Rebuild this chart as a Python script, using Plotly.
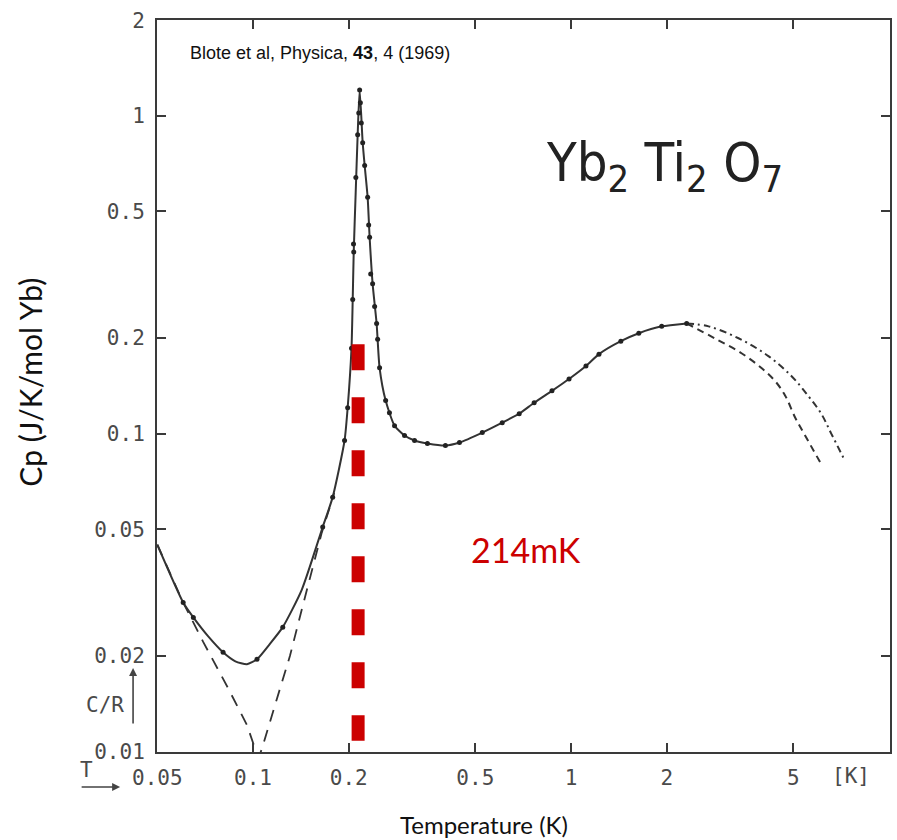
import plotly.graph_objects as go

# Smooth fitted curve through the measurements (T in K, Cp in J/K/mol Yb)
curve_T = [0.050, 0.0603, 0.0649, 0.0723, 0.0805, 0.0880, 0.0957, 0.1029, 0.1130, 0.124,
           0.1424, 0.1656, 0.178, 0.194, 0.1984, 0.204, 0.2058, 0.2073, 0.2103, 0.2133,
           0.2164, 0.2212, 0.2244, 0.2293, 0.2326, 0.2377, 0.2447, 0.250, 0.2612, 0.2786,
           0.2995, 0.322, 0.3535, 0.4027, 0.4457, 0.526, 0.6076, 0.687, 0.7656, 0.871,
           0.9856, 1.114, 1.224, 1.434, 1.633, 1.928, 2.31]
curve_Cp = [0.0447, 0.0294, 0.0264, 0.0230, 0.0205, 0.0192, 0.0188, 0.0195, 0.0218, 0.0246,
            0.0323, 0.0508, 0.0631, 0.0951, 0.1206, 0.1857, 0.264, 0.373, 0.575, 0.872,
            1.205, 0.823, 0.698, 0.554, 0.415, 0.296, 0.222, 0.161, 0.127, 0.1059,
            0.0986, 0.0951, 0.0931, 0.0917, 0.0937, 0.1007, 0.1082, 0.1155, 0.125, 0.1363,
            0.1485, 0.1631, 0.1778, 0.1953, 0.2069, 0.2175, 0.2222]

# Measured points
data_T = [0.0603, 0.0649, 0.0805, 0.1029, 0.124, 0.1656, 0.178, 0.194, 0.1984, 0.204,
          0.2058, 0.2070, 0.2073, 0.2105, 0.2133, 0.2150, 0.2164, 0.2175, 0.2190, 0.2212,
          0.2244, 0.2293, 0.2310, 0.2326, 0.2344, 0.2377, 0.2412, 0.2447, 0.2465, 0.250,
          0.2612, 0.2685, 0.2786, 0.2995, 0.322, 0.3535, 0.4027, 0.4457, 0.526, 0.6076,
          0.687, 0.7656, 0.871, 0.9856, 1.114, 1.224, 1.434, 1.633, 1.928, 2.31]
data_Cp = [0.0294, 0.0264, 0.0205, 0.0195, 0.0246, 0.0508, 0.0631, 0.0951, 0.1206, 0.1857,
           0.264, 0.395, 0.373, 0.640, 0.872, 1.02, 1.205, 1.10, 0.95, 0.823,
           0.698, 0.554, 0.453, 0.415, 0.318, 0.296, 0.251, 0.222, 0.198, 0.161,
           0.127, 0.1163, 0.1059, 0.0986, 0.0951, 0.0931, 0.0917, 0.0937, 0.1007, 0.1082,
           0.1155, 0.125, 0.1363, 0.1485, 0.1631, 0.1778, 0.1953, 0.2069, 0.2175, 0.2222]

# High-temperature extrapolations beyond the broad maximum
dash_T = [2.31, 2.868, 3.436, 3.97, 4.39, 4.72, 5.07, 5.49, 6.075]
dash_Cp = [0.2222, 0.198, 0.179, 0.1608, 0.1460, 0.1314, 0.1122, 0.0972, 0.0812]
dashdot_T = [2.31, 2.707, 3.363, 4.174, 4.93, 5.57, 6.12, 6.58, 7.18]
dashdot_Cp = [0.2222, 0.2175, 0.1995, 0.1753, 0.1518, 0.1314, 0.1155, 0.100, 0.0841]

# Low-temperature contributions (nuclear and magnetic)
nuc_T = [0.050, 0.0603, 0.0697, 0.0835, 0.0957, 0.104]
nuc_Cp = [0.0447, 0.0294, 0.0221, 0.0158, 0.0121, 0.0095]
mag_T = [0.103, 0.1067, 0.1189, 0.1306, 0.1424, 0.1542, 0.1644, 0.180]
mag_Cp = [0.0093, 0.0102, 0.01465, 0.01995, 0.028, 0.0381, 0.0487, 0.065]

# Transition temperature marker
Tc = 0.214
Tc_Cp = [0.191, 0.0108]

x_ticks = [0.05, 0.1, 0.2, 0.5, 1, 2, 5]
x_ticktext = ["0.05", "0.1", "0.2", "0.5", "1", "2", "5"]
y_ticks = [0.01, 0.02, 0.05, 0.1, 0.2, 0.5, 1, 2]
y_ticktext = ["0.01", "0.02", "0.05", "0.1", "0.2", "0.5", "1", "2"]

ink = "#333333"
fig = go.Figure()

fig.add_trace(go.Scatter(x=nuc_T, y=nuc_Cp, mode="lines",
                         line=dict(color=ink, width=1.8, dash="12px,9px")))
fig.add_trace(go.Scatter(x=mag_T, y=mag_Cp, mode="lines",
                         line=dict(color=ink, width=1.8, dash="12px,9px")))
fig.add_trace(go.Scatter(x=dash_T, y=dash_Cp, mode="lines",
                         line=dict(color=ink, width=2, dash="7px,5px", shape="spline")))
fig.add_trace(go.Scatter(x=dashdot_T, y=dashdot_Cp, mode="lines",
                         line=dict(color=ink, width=2, dash="7px,4px,2px,4px", shape="spline")))
fig.add_trace(go.Scatter(x=curve_T, y=curve_Cp, mode="lines",
                         line=dict(color=ink, width=2, shape="spline", smoothing=0.6)))
fig.add_trace(go.Scatter(x=data_T, y=data_Cp, mode="markers",
                         marker=dict(color="#222222", size=5)))
fig.add_trace(go.Scatter(x=[Tc, Tc], y=Tc_Cp, mode="lines",
                         line=dict(color="#cc0000", width=13, dash="26px,27px")))

tick_font = dict(family="DejaVu Sans Mono", size=21, color="#4a4a4a")
axis_common = dict(type="log", showgrid=False, zeroline=False, showline=True,
                   linecolor="#3a3a3a", linewidth=2, mirror="ticks", ticks="inside",
                   ticklen=9, tickwidth=2, tickcolor="#3a3a3a", tickfont=tick_font)

fig.update_xaxes(range=[-1.302, 1.003], tickvals=x_ticks, ticktext=x_ticktext,
                 ticklabelstandoff=6, **axis_common)
fig.update_yaxes(range=[-2.002, 0.3015], tickvals=y_ticks, ticktext=y_ticktext,
                 ticklabelstandoff=6, **axis_common)

annotations = [
    dict(x=-0.1728, y=0.505, text="Cp (J/K/mol Yb)", textangle=-90,
         font=dict(family="Lato", size=30, color="#111111")),
    dict(x=0.4463, y=-0.0997, text="Temperature (K)",
         font=dict(family="Lato", size=24, color="#111111")),
    dict(x=0.0422, y=0.955, xanchor="left", text="Blote et al, Physica, <b>43</b>, 4 (1969)",
         font=dict(family="Liberation Sans", size=18, color="#111111")),
    dict(x=0.692, y=0.80, text="Yb<sub>2</sub> Ti<sub>2</sub> O<sub>7</sub>",
         font=dict(family="DejaVu Sans Condensed, Liberation Sans", size=54, color="#222222")),
    dict(x=0.503, y=0.276, text="214mK",
         font=dict(family="Lato", size=34, color="#cc0000")),
    dict(x=0.947, y=-0.0328, text="[K]", font=tick_font),
    dict(x=-0.0707, y=0.0642, text="C/R", font=tick_font),
    dict(x=-0.0966, y=-0.0246, text="T", font=tick_font),
]
for a in annotations:
    a.setdefault("xanchor", "center")
    a.update(showarrow=False, yanchor="middle", xref="paper", yref="paper")

# Arrows beside the axis symbols C/R and T
arrows = [
    dict(x=-0.03265, y=0.1148, ax=0, ay=57),
    dict(x=-0.0503, y=-0.0478, ax=-40, ay=0),
]
for a in arrows:
    a.update(text="", showarrow=True, xref="paper", yref="paper",
             arrowhead=2, arrowsize=1, arrowwidth=1.6, arrowcolor="#444444")

fig.update_layout(annotations=annotations + arrows)

fig.update_layout(width=897, height=840, showlegend=False,
                  paper_bgcolor="white", plot_bgcolor="white",
                  margin=dict(l=157, r=5, t=20, b=88))

fig.write_html("out.html")
